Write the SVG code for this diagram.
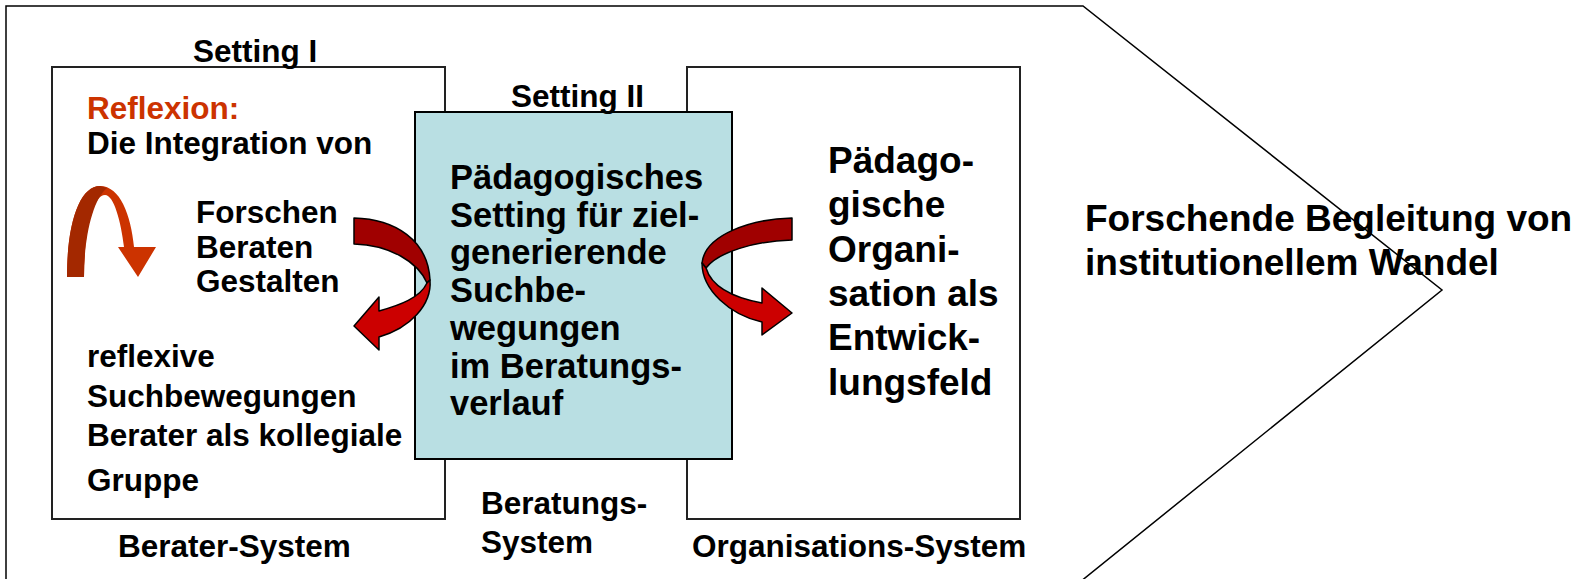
<svg xmlns="http://www.w3.org/2000/svg" width="1586" height="579" viewBox="0 0 1586 579">
<style>
text{font-family:"Liberation Sans",Arial,sans-serif;font-weight:bold;fill:#000}
.s{font-size:31.5px}
.m{font-size:34.5px}
.l{font-size:37px}
.box{fill:#fff;stroke:#222;stroke-width:2}
.dk{fill:#A00000;stroke:#000;stroke-width:1.5;stroke-linejoin:round}
.lt{fill:#CC0000;stroke:#000;stroke-width:1.5;stroke-linejoin:round}
</style>
<g id="frame">
<polygon points="6,6 1083,6 1442,290 1080,582 6,582" fill="#fff" stroke="#000" stroke-width="1.5"/>
<text class="l" x="1085" y="231">Forschende Begleitung von</text>
<text class="l" x="1085" y="275">institutionellem Wandel</text>
</g>
<g id="berater-system">
<rect class="box" x="52" y="67" width="393" height="452"/>
<text class="s" x="193" y="62">Setting I</text>
<text class="s" x="87" y="119" fill="#CC3300" style="fill:#CC3300">Reflexion:</text>
<text class="s" x="87" y="154">Die Integration von</text>
<text class="s" x="196" y="223">Forschen</text>
<text class="s" x="196" y="258">Beraten</text>
<text class="s" x="196" y="292">Gestalten</text>
<text class="s" x="87" y="367">reflexive</text>
<text class="s" x="87" y="407">Suchbewegungen</text>
<text class="s" x="87" y="446">Berater als kollegiale</text>
<text class="s" x="87" y="491">Gruppe</text>
<text class="s" x="118" y="557">Berater-System</text>
<g id="reflexion-arrow">
<path d="M67,277 C67,222 80,186 100,186 C120,186 131,215 134,247 L156,247 L138,277 L118,247 L124,247 C121,222 114,195 105,195 C92,195 84,235 84,277 Z" fill="#CC3300"/>
<path d="M67,277 C67,222 80,186 100,186 L107,188 C92,200 84,240 84,277 Z" fill="#A32800"/>
</g>
</g>
<g id="organisations-system">
<rect class="box" x="687" y="67" width="333" height="452"/>
<text class="l" x="828" y="173">Pädago-</text>
<text class="l" x="828" y="217">gische</text>
<text class="l" x="828" y="262">Organi-</text>
<text class="l" x="828" y="306">sation als</text>
<text class="l" x="828" y="350">Entwick-</text>
<text class="l" x="828" y="395">lungsfeld</text>
<text class="s" x="692" y="557">Organisations-System</text>
</g>
<g id="beratungs-system">
<rect x="415" y="112" width="317" height="347" fill="#B9DFE3" stroke="#000" stroke-width="2"/>
<text class="s" x="511" y="107">Setting II</text>
<text class="m" x="450" y="189">Pädagogisches</text>
<text class="m" x="450" y="227">Setting für ziel-</text>
<text class="m" x="450" y="264">generierende</text>
<text class="m" x="450" y="302">Suchbe-</text>
<text class="m" x="450" y="340">wegungen</text>
<text class="m" x="450" y="378">im Beratungs-</text>
<text class="m" x="450" y="415">verlauf</text>
<text class="s" x="481" y="514">Beratungs-</text>
<text class="s" x="481" y="553">System</text>
</g>
<g id="connectors">
<g id="arrow-left">
<path class="dk" d="M354,218 C395,219 428,240 430,280 L427,283 C418,262 390,245 354,244 Z"/>
<path class="lt" d="M430,280 C432,305 410,328 379,337 L379,350 L354,326 L379,297 L379,311 C400,305 420,298 427,283 Z"/>
</g>
<g id="arrow-right">
<path class="dk" d="M792,218 C750,219 705,235 702,263 L706,268 C718,252 755,241 792,240 Z"/>
<path class="lt" d="M702,263 C702,290 730,315 762,322 L762,335 L792,313 L762,288 L762,303 C735,298 712,288 706,268 Z"/>
</g>
</g>
</svg>
